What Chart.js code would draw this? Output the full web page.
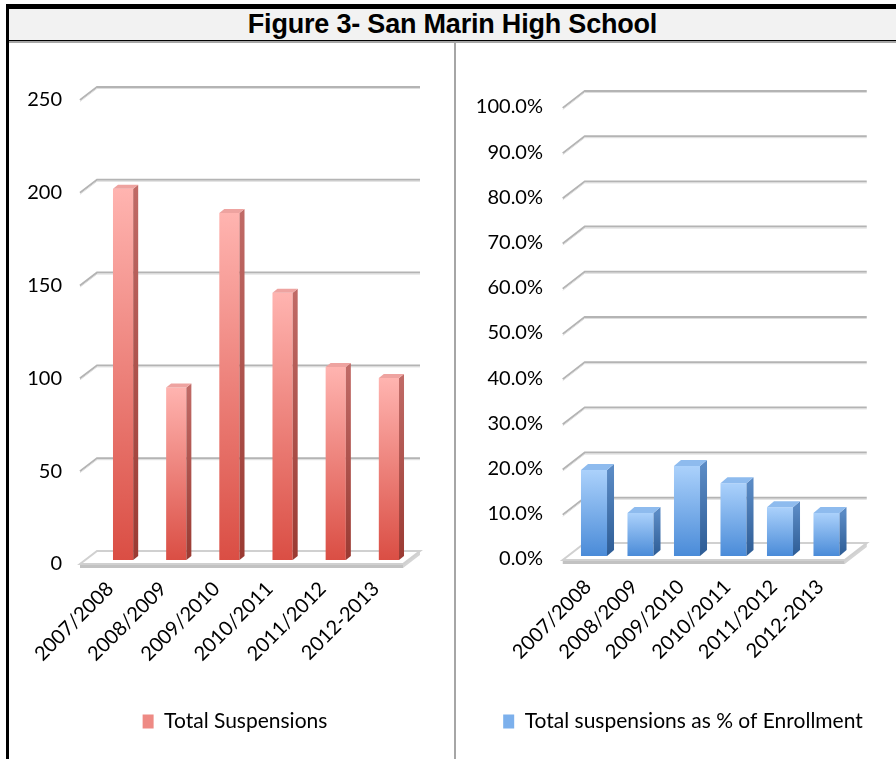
<!DOCTYPE html>
<html>
<head>
<meta charset="utf-8">
<script src="https://cdn.jsdelivr.net/npm/chart.js@4.4.1/dist/chart.umd.min.js"></script>
<style>
  html, body { margin: 0; padding: 0; background: #fff; }
  body { width: 896px; height: 759px; position: relative; overflow: hidden; }
  .rule { position: absolute; }
  #title {
    position: absolute; left: 9px; top: 9px; right: 0; height: 31px;
    background: #f2f2f2; color: #000; text-align: center; line-height: 32px;
    font: bold 27px "Liberation Sans", Arial, sans-serif; letter-spacing: -0.2px;
  }
  canvas { position: absolute; top: 43px; }
  #left { left: 9px; }
  #right { left: 456px; }
</style>
</head>
<body>
<div class="rule" style="left:6px;top:4px;right:0;height:5px;background:#000"></div>
<div class="rule" style="left:6px;top:4px;width:3px;bottom:0;background:#000"></div>
<div id="title">Figure 3- San Marin High School</div>
<div class="rule" style="left:9px;top:40px;right:0;height:1px;background:#000"></div>
<div class="rule" style="left:9px;top:41px;right:0;height:2px;background:#a6a6a6"></div>
<div class="rule" style="left:454px;top:43px;width:2px;bottom:0;background:#a6a6a6"></div>
<canvas id="left" width="445" height="716"></canvas>
<canvas id="right" width="440" height="716"></canvas>

<script>
// data
const years = ['2007/2008', '2008/2009', '2009/2010', '2010/2011', '2011/2012', '2012-2013'];
const suspensions = [200, 93, 187, 144, 104, 98];
const suspensionPct = [19.0, 9.5, 19.9, 16.1, 10.8, 9.5];
const countAxis = { min: 0, max: 250, step: 50 };
const pctAxis = { min: 0, max: 100, step: 10 };

const FONT = 'Lato, "Open Sans", sans-serif';

const RED = { top: '#ffb4b0', bot: '#da4e44', sideTop: '#c06a66', sideBot: '#9a3a32', cap: '#eea3a0', key: '#ee8a84' };
const BLUE = { top: '#abd1fb', bot: '#4a8bd8', sideTop: '#5a8ac4', sideBot: '#2d5c95', cap: '#8ebbee', key: '#7cb0ec' };

// fake 3D: floor, back-wall gridlines, bar sides and caps
const threeD = {
  id: 'threeD',
  afterLayout(chart, args, o) {
    const lg = chart.legend;
    if (!lg) return;
    const d = o.legendCenter - (lg.left + lg.right) / 2;
    lg.left += d; lg.right += d;
  },
  beforeDatasetsDraw(chart, args, o) {
    const { ctx, chartArea: a, scales: { y } } = chart;
    const y0 = y.getPixelForValue(0);
    const fx = a.left + o.frontL, rx = a.right + o.frontR;
    const fy = y0 + o.front, by = y0 + o.back;
    ctx.save();
    // floor slab
    ctx.fillStyle = '#c2c2c2';
    ctx.fillRect(fx, fy, rx - fx, 4);
    ctx.beginPath();
    ctx.moveTo(rx, fy); ctx.lineTo(rx + o.dx, by); ctx.lineTo(rx + o.dx, by + 4); ctx.lineTo(rx, fy + 4);
    ctx.closePath(); ctx.fillStyle = '#d4d4d4'; ctx.fill();
    ctx.beginPath();
    ctx.moveTo(fx, fy); ctx.lineTo(rx, fy); ctx.lineTo(rx + o.dx, by); ctx.lineTo(fx + o.dx, by);
    ctx.closePath(); ctx.fillStyle = '#fff'; ctx.fill();
    ctx.strokeStyle = '#d0d0d0'; ctx.lineWidth = 2; ctx.stroke();
    // gridlines
    y.ticks.forEach((t) => {
      if (t.value <= y.min) return;
      const p = y.getPixelForValue(t.value);
      const f = p + o.front, b = p + o.back;
      ctx.beginPath();
      ctx.moveTo(fx, f); ctx.lineTo(fx + o.dx, b); ctx.lineTo(rx + o.dx, b);
      ctx.strokeStyle = '#b4b4b4'; ctx.lineWidth = 2; ctx.stroke();
      ctx.beginPath();
      ctx.moveTo(fx, f + 1.5); ctx.lineTo(fx + o.dx, b + 1.5); ctx.lineTo(rx + o.dx, b + 1.5);
      ctx.strokeStyle = '#dedede'; ctx.lineWidth = 1; ctx.stroke();
    });
    ctx.restore();
  },
  afterDatasetsDraw(chart, args, o) {
    const { ctx } = chart;
    const c = o.colors;
    ctx.save();
    chart.getDatasetMeta(0).data.forEach((el) => {
      const { x, y: top, base, width } = el.getProps(['x', 'y', 'base', 'width'], true);
      const l = x - width / 2, r = x + width / 2;
      const g = ctx.createLinearGradient(0, top, 0, base);
      g.addColorStop(0, c.sideTop); g.addColorStop(1, c.sideBot);
      ctx.beginPath();
      ctx.moveTo(r, top); ctx.lineTo(r + o.sx, top - o.sy); ctx.lineTo(r + o.sx, base - o.sy); ctx.lineTo(r, base);
      ctx.closePath(); ctx.fillStyle = g; ctx.fill();
      ctx.beginPath();
      ctx.moveTo(l, top); ctx.lineTo(r, top); ctx.lineTo(r + o.sx, top - o.sy); ctx.lineTo(l + o.sx, top - o.sy);
      ctx.closePath(); ctx.fillStyle = c.cap; ctx.fill();
    });
    ctx.restore();
  },
};

function frontFill(c) {
  return (cx) => {
    const chart = cx.chart;
    if (!chart.chartArea) return c.key;
    const y = chart.scales.y;
    const top = y.getPixelForValue(cx.raw), bot = y.getPixelForValue(0);
    const g = chart.ctx.createLinearGradient(0, top, 0, bot);
    g.addColorStop(0, c.top); g.addColorStop(1, c.bot);
    return g;
  };
}

function barChart(id, cfg) {
  return new Chart(document.getElementById(id), {
    type: 'bar',
    data: {
      labels: years,
      datasets: [{
        label: cfg.label,
        data: cfg.data,
        backgroundColor: frontFill(cfg.colors),
        borderWidth: 0,
        barPercentage: cfg.barPct,
        categoryPercentage: 1,
      }],
    },
    plugins: [threeD],
    options: {
      responsive: false,
      animation: false,
      devicePixelRatio: 1,
      layout: { padding: { top: cfg.padTop, right: cfg.padRight, bottom: 17, left: 0 } },
      scales: {
        x: {
          grid: { display: false },
          border: { display: false },
          afterFit: (s) => { s.height = cfg.xHeight; },
          ticks: {
            autoSkip: false, minRotation: 45, maxRotation: 45,
            padding: cfg.xPad, labelOffset: cfg.xShift,
            color: '#000', font: { family: FONT, size: 20 },
          },
        },
        y: {
          min: cfg.axis.min, max: cfg.axis.max,
          grid: { display: false, drawTicks: false },
          border: { display: false },
          afterFit: (s) => { s.width = cfg.yWidth; },
          ticks: {
            stepSize: cfg.axis.step, padding: cfg.yPad, labelOffset: cfg.yShift,
            color: '#000', font: { family: FONT, size: 20 },
            callback: cfg.fmt,
          },
        },
      },
      plugins: {
        tooltip: { enabled: false },
        legend: {
          position: 'bottom',
          labels: {
            boxWidth: 11, boxHeight: 14, padding: 10,
            color: '#000', font: { family: FONT, size: 21 },
            generateLabels: () => [{
              text: cfg.label, fillStyle: cfg.colors.key, strokeStyle: cfg.colors.key,
              lineWidth: 0, hidden: false, datasetIndex: 0,
            }],
          },
        },
        threeD: Object.assign({ colors: cfg.colors }, cfg.depth),
      },
    },
  });
}

barChart('left', {
  label: 'Total Suspensions',
  data: suspensions,
  axis: countAxis,
  colors: RED,
  barPct: 0.38,
  padTop: 53, padRight: 38.5, yWidth: 87.5, xHeight: 141,
  yPad: 34.5, yShift: 4, xPad: 9, xShift: -13,
  fmt: (v) => v,
  depth: { front: 4, back: -9, dx: 17, frontL: -16.5, frontR: -12.5, sx: 5, sy: 4, legendCenter: 226 },
});

barChart('right', {
  label: 'Total suspensions as % of Enrollment',
  data: suspensionPct,
  axis: pctAxis,
  colors: BLUE,
  barPct: 0.56,
  padTop: 61, padRight: 46.25, yWidth: 114.75, xHeight: 145,
  yPad: 27.75, yShift: 3, xPad: 11, xShift: -6,
  fmt: (v) => v.toFixed(1) + '%',
  depth: { front: 4, back: -13, dx: 22, frontL: -8, frontR: -5, sx: 7, sy: 6, legendCenter: 227 },
});
</script>
</body>
</html>
